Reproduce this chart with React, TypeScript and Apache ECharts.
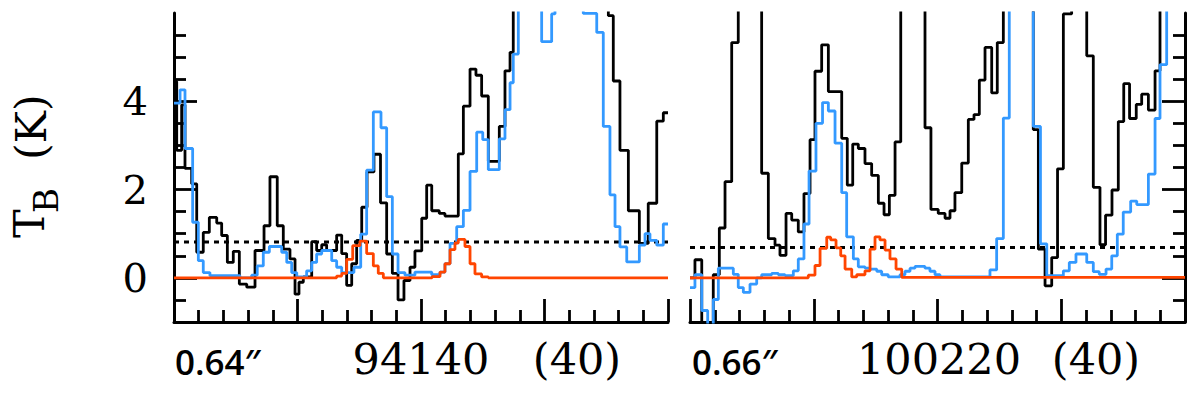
import { useEffect, useRef } from "react";
import * as echarts from "echarts";

type Pt = [number, number];

// Axis ticks (x in panel units 0..40, y in K)
const yMajorTicks = [0, 2, 4];
const yMinorTicks = [-0.5, 0.5, 1, 1.5, 2.5, 3, 3.5, 4.5, 5, 5.5];
const xMajorTicks = [0, 10, 20, 30, 40];
const xMinorTicks = [2, 4, 6, 8, 12, 14, 16, 18, 22, 24, 26, 28, 32, 34, 36, 38];

// Left panel (94140)
const leftBlack: Pt[] = [
  [0, 4.45], [0.22, 2.89], [0.62, 3.92], [0.89, 2.48], [1.43, 2.13], [1.84, 0.58], [2.37, 1.03],
  [2.86, 1.37], [3.46, 1.24], [3.86, 0.96], [4.32, 0.35], [4.8, 0.6], [5.29, -0.14], [5.89, -0.21],
  [6.56, 0.62], [7.29, 1.18], [7.77, 2.29], [8.36, 1.18], [8.85, 0.65], [9.39, 0.43], [9.8, -0.37],
  [10.12, -0.1], [10.47, 0.02], [11.15, 0.82], [11.55, 0.62], [11.96, 0.75], [12.36, 0.62],
  [13.17, 0.97], [13.58, 0.55], [13.98, -0.17], [14.39, 0.32], [14.79, 0.85], [15.2, 1.6],
  [15.63, 2.4], [16.19, 2.8], [16.72, 1.7], [17.22, 0.54], [17.68, 0.1], [18.14, -0.5],
  [18.62, -0.06], [19.11, 0.24], [19.51, 0.61], [20.06, 1.35], [20.46, 2.1], [20.87, 1.52],
  [21.48, 1.46], [21.94, 1.4], [23.02, 2.81], [23.43, 3.89], [23.97, 4.73], [24.45, 4.59],
  [24.91, 4.12], [25.45, 2.64], [26.34, 3.43], [26.8, 4.69], [27.21, 5.11], [27.47, 8],
  [35.17, 5.94], [35.57, 4.46], [36.11, 2.89], [36.79, 1.52], [37.68, 0.78], [38.4, 1.69],
  [39.09, 3.55], [39.62, 3.74], [40, 3.74],
];
const leftBlue: Pt[] = [
  [0, 3.96], [0.49, 4.26], [0.89, 2.93], [1.51, 1.26], [1.97, 0.39], [2.37, 0.12], [2.91, 0.05],
  [5.34, 0.0], [6.29, 0.06], [6.74, 0.27], [7.23, 0.58], [7.72, 0.71], [8.72, 0.58], [9.13, 0.35],
  [9.53, 0.12], [9.94, 0.02], [10.74, 0.16], [11.15, 0.35], [11.55, 0.54], [11.96, 0.62],
  [12.77, 0.39], [13.17, 0.24], [13.58, 0.12], [14.57, 0.24], [15.12, 0.99], [15.6, 2.44],
  [16.14, 3.76], [16.76, 3.4], [17.22, 1.84], [17.68, 0.54], [18.14, 0.12], [18.7, 0.06],
  [19.51, 0.13], [20.87, 0.07], [21.54, 0.13], [21.94, 0.32], [22.35, 0.78], [22.89, 1.16],
  [23.43, 1.53], [23.97, 2.41], [24.51, 3.3], [25.0, 3.13], [25.45, 2.45], [26.34, 3.15],
  [26.8, 3.81], [27.21, 4.42], [27.47, 5.07], [27.88, 8], [29.77, 5.35], [30.58, 5.98],
  [30.85, 8], [33.14, 5.99], [34.23, 5.56], [34.76, 3.43], [35.3, 1.88], [35.71, 1.16],
  [36.11, 0.7], [36.66, 0.36], [37.68, 0.74], [38.14, 1.0], [38.54, 0.85], [39.09, 0.74],
  [39.62, 1.22], [40, 1.22],
];
const leftRed: Pt[] = [
  [0, 0], [13.17, 0.04], [13.58, 0.1], [13.98, 0.42], [14.47, 0.73], [15.06, 0.83], [15.6, 0.55],
  [16.14, 0.27], [16.54, 0.1], [16.95, 0], [20.9, 0.03], [21.54, 0.13], [21.94, 0.32],
  [22.35, 0.64], [22.75, 0.79], [23.02, 0.87], [23.56, 0.71], [23.97, 0.32], [24.37, 0.09],
  [24.91, 0.02], [25.45, 0], [40, 0],
];
const leftThreshold = 0.81;

// Right panel (100220)
const rightBlack: Pt[] = [
  [0, 0.0], [0.4, 0.41], [0.95, -1.5], [1.88, 0.07], [2.37, 1.13], [2.83, 2.18], [3.37, 5.33],
  [3.9, 8], [5.79, 2.37], [6.33, 0.89], [6.87, 0.74], [7.27, 0.51], [7.76, 1.46], [8.22, 1.31],
  [8.75, 1.04], [9.21, 1.91], [9.7, 3.13], [10.1, 4.68], [10.64, 5.28], [11.18, 4.22],
  [12.26, 3.16], [12.71, 2.1], [13.15, 3.03], [13.6, 2.93], [14.14, 2.59], [14.68, 2.32],
  [15.22, 1.69], [15.68, 1.43], [16.11, 1.87], [16.57, 3.08], [17.03, 8], [18.99, 3.4],
  [19.47, 1.55], [20.06, 1.46], [20.61, 1.35], [21.01, 1.52], [21.41, 1.93], [21.96, 2.6],
  [22.49, 3.59], [22.95, 3.7], [23.38, 4.48], [23.84, 5.22], [24.38, 4.19], [24.83, 5.33],
  [25.32, 8], [27.74, 3.36], [28.15, 0.65], [28.69, -0.18], [29.23, 0.46], [29.7, 2.47],
  [30.17, 5.98], [30.84, 8], [32.06, 5.03], [32.59, 2.05], [33.13, 0.75], [33.58, 1.42],
  [34.1, 1.99], [34.61, 3.54], [35.05, 4.4], [35.52, 3.61], [36.06, 3.93], [36.5, 4.16],
  [37.04, 3.8], [37.58, 4.69], [37.98, 8], [40, 8],
];
const rightBlue: Pt[] = [
  [0, -0.22], [0.4, 0.07], [0.95, -0.74], [1.43, -1.5], [1.88, -0.49], [2.29, 0.22], [3.5, 0.08],
  [3.9, -0.22], [4.31, -0.33], [4.85, -0.14], [5.39, 0.0], [5.79, 0.07], [6.6, 0.1], [7.14, 0.07],
  [7.68, 0.05], [8.35, 0.16], [8.75, 0.43], [9.21, 1.22], [9.62, 2.42], [10.18, 3.5],
  [10.71, 3.97], [11.18, 3.78], [11.72, 3.05], [12.26, 1.93], [12.66, 0.93], [13.2, 0.43],
  [13.6, 0.25], [14.14, 0.22], [14.55, 0.2], [15.09, 0.15], [15.49, 0.07], [16.02, 0.02],
  [16.97, 0.07], [17.37, 0.15], [17.78, 0.22], [18.18, 0.26], [18.99, 0.22], [19.39, 0.15],
  [19.8, 0.07], [20.2, 0.02], [24.24, 0.18], [24.78, 0.89], [25.32, 3.62], [25.8, 8],
  [27.74, 3.43], [28.32, 0.77], [28.83, 0.05], [30.17, 0.16], [30.65, 0.35], [31.19, 0.54],
  [32.06, 0.35], [32.59, 0.14], [33.07, 0.08], [33.62, 0.2], [34.08, 0.5], [34.53, 0.99],
  [35.01, 1.49], [35.61, 1.74], [36.1, 1.66], [37.04, 2.35], [37.58, 3.61], [37.98, 4.83],
  [38.52, 8], [40, 8],
];
const rightRed: Pt[] = [
  [0, 0], [9.56, 0.06], [10.1, 0.28], [10.51, 0.67], [11.05, 0.92], [11.37, 0.86], [11.8, 0.68],
  [12.18, 0.5], [12.53, 0.2], [13.07, 0.02], [13.47, 0.07], [14.14, 0.16], [14.55, 0.65],
  [14.95, 0.93], [15.35, 0.86], [15.76, 0.63], [16.16, 0.43], [16.65, 0.2], [17.11, 0.01],
  [40, 0],
];
const rightThreshold = 0.69;

const beamLabels = ["0.64″", "0.66″"];
const freqLabels = ["94140", "100220"];
const spanLabels = ["(40)", "(40)"];
const yUnitLabel = { main: "T", sub: "B", unit: "(K)" };

const BLACK = "#000000";
const BLUE = "#3399ff";
const RED = "#ff4500";
const SERIF = "DejaVu Serif, Liberation Serif, serif";
const SANS = "Open Sans, DejaVu Sans, sans-serif";
const LINE_W = 2.8;

function xAxes(grid: number) {
  const common = { type: "value", gridIndex: grid, min: 0, max: 40, position: "bottom", splitLine: { show: false }, axisLabel: { show: false } };
  return [
    { ...common, axisLine: { show: true, onZero: false, lineStyle: { color: BLACK, width: 3 } },
      axisTick: { show: true, inside: true, length: 23, customValues: xMajorTicks, lineStyle: { color: BLACK, width: 2.8 } } },
    { ...common, axisLine: { show: false, onZero: false },
      axisTick: { show: true, inside: true, length: 12, customValues: xMinorTicks, lineStyle: { color: BLACK, width: 2.8 } } },
  ];
}

function yAxes(grid: number, side: "left" | "right", labels: boolean) {
  const common = { type: "value", gridIndex: grid, min: -1, max: 6, position: side, splitLine: { show: false } };
  return [
    { ...common, axisLine: { show: true, onZero: false, lineStyle: { color: BLACK, width: 3 } },
      axisTick: { show: true, inside: true, length: 23, customValues: yMajorTicks, lineStyle: { color: BLACK, width: 2.8 } },
      axisLabel: { show: labels, customValues: yMajorTicks, fontFamily: SERIF, fontSize: 40, color: BLACK, margin: 26 } },
    { ...common, axisLine: { show: false, onZero: false },
      axisTick: { show: true, inside: true, length: 12, customValues: yMinorTicks, lineStyle: { color: BLACK, width: 2.8 } },
      axisLabel: { show: false } },
  ];
}

function step(data: Pt[], color: string, xi: number, yi: number, z: number) {
  return { type: "line", xAxisIndex: xi, yAxisIndex: yi, data, step: "end", showSymbol: false, symbol: "none",
    lineStyle: { color, width: LINE_W }, clip: true, z, silent: true };
}

function threshold(v: number, xi: number, yi: number) {
  return { type: "line", xAxisIndex: xi, yAxisIndex: yi, data: [[0, v], [40, v]], showSymbol: false, symbol: "none",
    lineStyle: { color: BLACK, width: 3, type: [5, 5] }, clip: true, z: 1, silent: true };
}

function text(t: string, x: number, y: number, size: number, family: string, align: string, weight = "normal", rotation = 0) {
  return { type: "text", x, y, rotation, silent: true,
    style: { text: t, fill: BLACK, font: `${weight} ${size}px ${family}`, textAlign: align, textVerticalAlign: "middle" } };
}

export default function App() {
  const ref = useRef<HTMLDivElement>(null);
  useEffect(() => {
    if (!ref.current) return;
    const chart = echarts.init(ref.current, null, { renderer: "svg" });
    chart.setOption({
      animation: false,
      backgroundColor: "#ffffff",
      grid: [
        { left: 174, top: 13, width: 494, height: 309 },
        { left: 690, top: 13, width: 495, height: 309 },
      ],
      xAxis: [...xAxes(0), ...xAxes(1)],
      yAxis: [...yAxes(0, "left", true), ...yAxes(1, "right", false)],
      series: [
        threshold(leftThreshold, 0, 0),
        step(leftBlack, BLACK, 0, 0, 2),
        step(leftBlue, BLUE, 0, 0, 3),
        step(leftRed, RED, 0, 0, 4),
        threshold(rightThreshold, 2, 2),
        step(rightBlack, BLACK, 2, 2, 2),
        step(rightBlue, BLUE, 2, 2, 3),
        step(rightRed, RED, 2, 2, 4),
      ],
      graphic: [
        text(beamLabels[0], 175, 361, 35, SANS, "left", "600"),
        text(freqLabels[0], 421, 359, 43, SERIF, "center"),
        text(spanLabels[0], 577, 359, 43, SERIF, "center"),
        text(beamLabels[1], 692, 361, 35, SANS, "left", "600"),
        text(freqLabels[1], 939, 359, 43, SERIF, "center"),
        text(spanLabels[1], 1096, 359, 43, SERIF, "center"),
        text(yUnitLabel.main, 29, 238, 43, SERIF, "left", "normal", Math.PI / 2),
        text(yUnitLabel.sub, 45.5, 213, 34, SERIF, "left", "normal", Math.PI / 2),
        text(yUnitLabel.unit, 31, 160, 43, SERIF, "left", "normal", Math.PI / 2),
      ],
    });
    return () => chart.dispose();
  }, []);
  return <div ref={ref} style={{ position: "fixed", left: 0, top: 0, width: 1200, height: 397 }} />;
}
